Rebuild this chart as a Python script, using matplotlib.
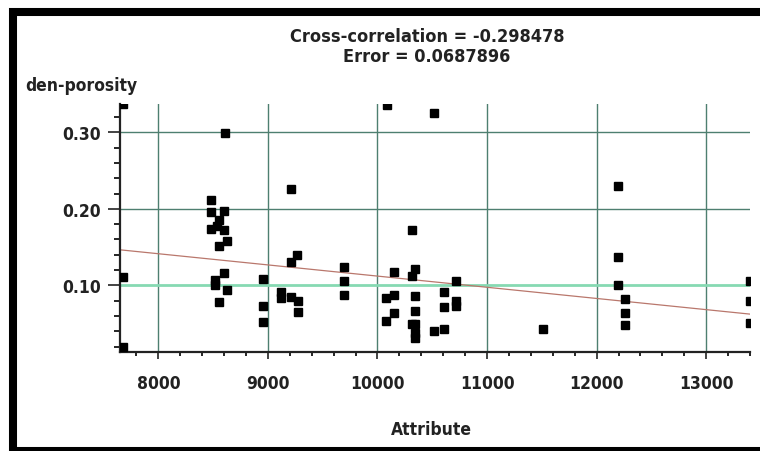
import matplotlib
matplotlib.use("Agg")
import matplotlib.pyplot as plt
from matplotlib.patches import Rectangle
from matplotlib.ticker import MultipleLocator

plt.rcParams['font.family'] = ['DejaVu Sans Condensed', 'DejaVu Sans']
plt.rcParams['font.stretch'] = 'condensed'
plt.rcParams['font.weight'] = 'bold'

# scatter points
attr = [7680, 7680, 7680,
        8606, 8484, 8484, 8603, 8550, 8484, 8535, 8596, 8628, 8550,
        8596, 8520, 8514, 8628, 8550,
        8958, 8958, 8958,
        9208, 9208, 9270, 9123, 9123, 9215, 9275, 9275,
        9697, 9697, 9697,
        10089, 10517, 10318, 10150, 10346, 10318, 10713, 10080, 10150,
        10346, 10609, 10713, 10713, 10609, 10150, 10080, 10346, 10318,
        10346, 10346, 10346, 10517, 10609,
        11508,
        12196, 12196, 12196, 12260, 12260, 12260,
        13400, 13400, 13400]
porosity = [0.337, 0.111, 0.020,
            0.299, 0.211, 0.196, 0.197, 0.186, 0.174, 0.178, 0.172, 0.158, 0.151,
            0.116, 0.107, 0.100, 0.0935, 0.078,
            0.109, 0.073, 0.052,
            0.226, 0.130, 0.140, 0.091, 0.084, 0.085, 0.080, 0.065,
            0.124, 0.106, 0.088,
            0.3356, 0.325, 0.172, 0.117, 0.122, 0.112, 0.106, 0.084, 0.087,
            0.086, 0.091, 0.079, 0.073, 0.072, 0.064, 0.054, 0.067, 0.049,
            0.049, 0.038, 0.031, 0.0405, 0.043,
            0.0426,
            0.230, 0.137, 0.101, 0.082, 0.0644, 0.0488,
            0.106, 0.080, 0.051]

# regression line end points
fit_x = [7650, 13400]
fit_y = [0.1465, 0.0625]

title_lines = ["Cross-correlation = -0.298478", "Error = 0.0687896"]

fig = plt.figure(figsize=(7.6, 4.52), dpi=100)
fig.patch.set_facecolor('white')

# thick black frame around the chart
fig.patches.append(Rectangle((13 / 760, 0), 1.1, (452 - 13) / 452,
                             transform=fig.transFigure, fill=False,
                             edgecolor='black', linewidth=5.8))

ax = fig.add_axes([120 / 760, (452 - 353) / 452, 630 / 760, 248 / 452])
ax.set_xlim(7650, 13400)
ax.set_ylim(0.013, 0.337)

ax.xaxis.set_major_locator(MultipleLocator(1000))
ax.xaxis.set_minor_locator(MultipleLocator(200))
ax.yaxis.set_major_locator(MultipleLocator(0.1))
ax.yaxis.set_minor_locator(MultipleLocator(0.02))
ax.yaxis.set_major_formatter(plt.FuncFormatter(lambda v, p: f'{v:.2f}'))

ax.grid(True, which='major', color='#4e7f70', linewidth=1)
for loc, gl in zip(ax.get_yticks(), ax.get_ygridlines()):
    if abs(loc - 0.1) < 1e-6:
        gl.set_color('#86d9b2')
        gl.set_linewidth(2)
ax.set_axisbelow(True)

ax.plot(fit_x, fit_y, color='#b9776c', linewidth=0.9, zorder=2)
ax.plot(attr, porosity, 's', color='black', markersize=5.5, zorder=3,
        clip_on=True)

for s in ['top', 'right']:
    ax.spines[s].set_visible(False)
for s in ['left', 'bottom']:
    ax.spines[s].set_linewidth(1.6)
    ax.spines[s].set_color('#222222')

ax.tick_params(axis='x', which='major', length=5, width=1.2, pad=11,
               labelsize=12.5, colors='#222222')
ax.tick_params(axis='x', which='minor', length=3, width=1.2)
ax.tick_params(axis='y', which='major', length=9, width=1.2, pad=5,
               labelsize=12.5, colors='#222222')
ax.tick_params(axis='y', which='minor', length=4.5, width=1.2)
for lab in ax.get_xticklabels() + ax.get_yticklabels():
    lab.set_fontweight('bold')

fig.text(427 / 760, 1 - 37 / 452, title_lines[0], ha='center', va='center',
         fontsize=13, fontweight='bold', color='#222222')
fig.text(427 / 760, 1 - 57 / 452, title_lines[1], ha='center', va='center',
         fontsize=13, fontweight='bold', color='#222222')
fig.text(25 / 760, 1 - 86 / 452, 'den-porosity', ha='left', va='center',
         fontsize=12.5, fontweight='bold', color='#222222')
fig.text(431 / 760, 1 - 430 / 452, 'Attribute', ha='center', va='center',
         fontsize=12.5, fontweight='bold', color='#222222')

fig.savefig('out.png', dpi=100)
